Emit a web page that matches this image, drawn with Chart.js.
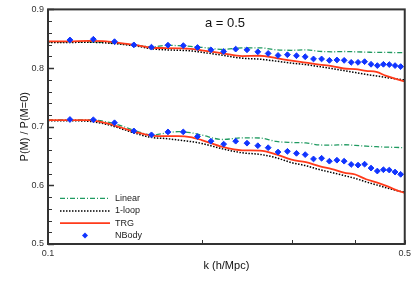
<!DOCTYPE html>
<html>
<head>
<meta charset="utf-8">
<script src="https://cdn.jsdelivr.net/npm/chart.js@4.4.1/dist/chart.umd.min.js"></script>
<style>
  html, body { margin: 0; padding: 0; background: #fff; }
  #wrap { width: 415px; height: 293px; }
</style>
</head>
<body>
<div id="wrap"><canvas id="chart" width="415" height="293"></canvas></div>
<script>
// k grid for the theory curves
const kLine = [0.10, 0.11, 0.12, 0.13, 0.14, 0.15, 0.16, 0.17, 0.18, 0.19, 0.20, 0.22, 0.24,
               0.26, 0.28, 0.30, 0.32, 0.34, 0.36, 0.38, 0.40, 0.42, 0.44, 0.46, 0.48, 0.50];

// upper family
const linearUp = [0.8445, 0.8445, 0.8445, 0.8437, 0.8412, 0.8387, 0.8361, 0.8387, 0.8382, 0.8370, 0.8353, 0.8319, 0.8345,
                  0.8345, 0.8311, 0.8303, 0.8311, 0.8286, 0.8277, 0.8282, 0.8277, 0.8272, 0.8266, 0.8266, 0.8264, 0.8261];
const loopUp = [0.8437, 0.8437, 0.8440, 0.8429, 0.8403, 0.8370, 0.8328, 0.8311, 0.8303, 0.8294, 0.8269, 0.8218, 0.8168,
                0.8151, 0.8118, 0.8084, 0.8059, 0.8025, 0.7992, 0.7958, 0.7924, 0.7891, 0.7866, 0.7840, 0.7815, 0.7798];
const trgUp = [0.8454, 0.8454, 0.8462, 0.8454, 0.8420, 0.8387, 0.8345, 0.8341, 0.8336, 0.8328, 0.8303, 0.8252, 0.8205,
               0.8210, 0.8168, 0.8126, 0.8092, 0.8059, 0.8034, 0.7992, 0.7983, 0.7953, 0.7933, 0.7866, 0.7815, 0.7773];

// lower family
const linearLo = [0.7118, 0.7118, 0.7118, 0.7084, 0.7008, 0.6916, 0.6857, 0.6891, 0.6916, 0.6899, 0.6857, 0.6782, 0.6810,
                  0.6807, 0.6748, 0.6731, 0.6723, 0.6689, 0.6686, 0.6692, 0.6681, 0.6669, 0.6659, 0.6652, 0.6647, 0.6642];
const loopLo = [0.7101, 0.7101, 0.7092, 0.7042, 0.6958, 0.6874, 0.6815, 0.6798, 0.6773, 0.6748, 0.6714, 0.6622, 0.6555,
                0.6529, 0.6471, 0.6387, 0.6336, 0.6269, 0.6218, 0.6168, 0.6118, 0.6059, 0.6008, 0.5958, 0.5916, 0.5882];
const trgLo = [0.7113, 0.7113, 0.7113, 0.7059, 0.6978, 0.6899, 0.6849, 0.6840, 0.6840, 0.6824, 0.6773, 0.6655, 0.6597,
               0.6592, 0.6529, 0.6437, 0.6395, 0.6328, 0.6277, 0.6218, 0.6185, 0.6104, 0.6050, 0.5992, 0.5924, 0.5869];

// simulation points
const kNBody = [0.1104, 0.1227, 0.1350, 0.1473, 0.1595, 0.1718, 0.1841, 0.1963, 0.2086, 0.2209, 0.2332,
                0.2454, 0.2577, 0.2700, 0.2823, 0.2945, 0.3068, 0.3191, 0.3313, 0.3436, 0.3559, 0.3682,
                0.3804, 0.3927, 0.4050, 0.4172, 0.4295, 0.4418, 0.4541, 0.4663, 0.4786, 0.4909];
const nbodyUp = [0.8479, 0.8491, 0.8450, 0.8395, 0.8356, 0.8390, 0.8383, 0.8350, 0.8311, 0.8282, 0.8323,
                 0.8311, 0.8277, 0.8249, 0.8215, 0.8227, 0.8210, 0.8193, 0.8155, 0.8155, 0.8131, 0.8138,
                 0.8131, 0.8097, 0.8097, 0.8109, 0.8064, 0.8042, 0.8064, 0.8059, 0.8042, 0.8025];
const nbodyLo = [0.7123, 0.7118, 0.7067, 0.6928, 0.6861, 0.6911, 0.6911, 0.6832, 0.6753, 0.6703, 0.6753,
                 0.6719, 0.6676, 0.6642, 0.6568, 0.6580, 0.6546, 0.6524, 0.6450, 0.6462, 0.6412, 0.6429,
                 0.6412, 0.6356, 0.6345, 0.6361, 0.6294, 0.6244, 0.6266, 0.6261, 0.6227, 0.6188];

const xTickValues = [0.1, 0.2, 0.3, 0.4, 0.5];
const xTickLabels = ['0.1', '', '', '', '0.5'];
const seriesNames = ['Linear', '1-loop', 'TRG', 'NBody'];

const FONT = 'Liberation Sans, Arial, sans-serif';
const GREEN = '#1f9a60';
const RED = '#ff3a1a';
const BLUE = '#1034ff';
const FRAME = '#333';

const pts = (xs, ys) => xs.map((x, i) => ({ x: x, y: ys[i] }));

const lineStyle = {
    linear: { borderColor: GREEN, borderWidth: 1.3, borderDash: [5, 2, 1, 2] },
    loop: { borderColor: '#000', borderWidth: 1.5, borderDash: [1.5, 1.5] },
    trg: { borderColor: RED, borderWidth: 1.8, borderDash: [] }
};

function curve(label, data, style) {
    return Object.assign({
        label: label,
        data: data,
        showLine: true,
        pointRadius: 0,
        fill: false,
        cubicInterpolationMode: 'monotone'
    }, style);
}

function nbody(data) {
    return {
        label: 'NBody',
        data: data,
        showLine: false,
        pointStyle: 'rectRot',
        pointRadius: 2.9,
        pointBackgroundColor: BLUE,
        pointBorderColor: BLUE,
        pointBorderWidth: 1
    };
}

// frame, inward ticks, legend and the "a = 0.5" note
const decorations = {
    id: 'decorations',
    afterDraw(chart) {
        const { ctx, chartArea: a, scales } = chart;
        const x = scales.x, y = scales.y;
        ctx.save();

        ctx.strokeStyle = FRAME;
        // minor and major y ticks
        for (let v = 0.5; v <= 0.9001; v += 0.02) {
            const py = Math.round(y.getPixelForValue(v)) + 0.5;
            const major = Math.abs(v * 10 - Math.round(v * 10)) < 1e-6;
            ctx.lineWidth = major ? 1.5 : 1;
            ctx.beginPath();
            ctx.moveTo(a.left, py);
            ctx.lineTo(a.left + (major ? 6 : 4), py);
            ctx.stroke();
        }
        // x ticks
        ctx.lineWidth = 1;
        xTickValues.forEach(v => {
            const px = Math.round(x.getPixelForValue(v)) + 0.5;
            ctx.beginPath();
            ctx.moveTo(px, a.bottom);
            ctx.lineTo(px, a.bottom - 4);
            ctx.stroke();
        });

        ctx.lineWidth = 2;
        ctx.strokeRect(a.left, a.top, a.right - a.left, a.bottom - a.top);

        // legend
        const styles = [lineStyle.linear, lineStyle.loop, lineStyle.trg];
        const lx0 = a.left + 12, lx1 = a.left + 62;
        const rows = [a.top + 189, a.top + 201.5, a.top + 213.7, a.top + 226];
        ctx.font = '9px ' + FONT;
        ctx.textBaseline = 'middle';
        ctx.textAlign = 'left';
        seriesNames.forEach((name, i) => {
            const ry = rows[i];
            if (i < 3) {
                const s = styles[i];
                ctx.strokeStyle = s.borderColor;
                ctx.lineWidth = s.borderWidth;
                ctx.setLineDash(s.borderDash);
                ctx.beginPath();
                ctx.moveTo(lx0, ry);
                ctx.lineTo(lx1, ry);
                ctx.stroke();
                ctx.setLineDash([]);
            } else {
                const cx = (lx0 + lx1) / 2, r = 3;
                ctx.fillStyle = BLUE;
                ctx.beginPath();
                ctx.moveTo(cx, ry - r);
                ctx.lineTo(cx + r, ry);
                ctx.lineTo(cx, ry + r);
                ctx.lineTo(cx - r, ry);
                ctx.closePath();
                ctx.fill();
            }
            ctx.fillStyle = '#222';
            ctx.fillText(name, lx1 + 5, ry);
        });

        // annotation
        ctx.font = '13px ' + FONT;
        ctx.textAlign = 'center';
        ctx.fillStyle = '#111';
        ctx.fillText('a = 0.5', 225, 23);
        ctx.restore();
    }
};

new Chart(document.getElementById('chart'), {
    type: 'scatter',
    data: {
        datasets: [
            nbody(pts(kNBody, nbodyUp)),
            nbody(pts(kNBody, nbodyLo)),
            curve('TRG', pts(kLine, trgUp), lineStyle.trg),
            curve('TRG', pts(kLine, trgLo), lineStyle.trg),
            curve('1-loop', pts(kLine, loopUp), lineStyle.loop),
            curve('1-loop', pts(kLine, loopLo), lineStyle.loop),
            curve('Linear', pts(kLine, linearUp), lineStyle.linear),
            curve('Linear', pts(kLine, linearLo), lineStyle.linear)
        ]
    },
    options: {
        responsive: false,
        animation: false,
        layout: { padding: { top: 6, right: 7, left: 0, bottom: 0 } },
        plugins: {
            legend: { display: false },
            tooltip: { enabled: false }
        },
        scales: {
            x: {
                type: 'logarithmic',
                min: 0.1,
                max: 0.5,
                grid: { display: false, drawTicks: false },
                border: { display: false },
                afterBuildTicks: scale => {
                    scale.ticks = xTickValues.map(v => ({ value: v }));
                },
                afterFit: scale => { scale.height = 49; },
                ticks: {
                    autoSkip: false,
                    maxRotation: 0,
                    padding: 4,
                    color: '#333',
                    font: { family: FONT, size: 9 },
                    callback: (v, i) => xTickLabels[i]
                },
                title: {
                    display: true,
                    text: 'k (h/Mpc)',
                    color: '#111',
                    font: { family: FONT, size: 11 },
                    padding: { top: 0, bottom: 20 }
                }
            },
            y: {
                min: 0.5,
                max: 0.9,
                grid: { display: false, drawTicks: false },
                border: { display: false },
                afterFit: scale => { scale.width = 48; },
                ticks: {
                    stepSize: 0.1,
                    padding: 4,
                    color: '#333',
                    font: { family: FONT, size: 9 },
                    callback: v => v.toFixed(1)
                },
                title: {
                    display: true,
                    text: 'P(M) / P(M=0)',
                    color: '#111',
                    font: { family: FONT, size: 11 },
                    padding: { top: 18, bottom: 0 }
                }
            }
        }
    },
    plugins: [decorations]
});
</script>
</body>
</html>
